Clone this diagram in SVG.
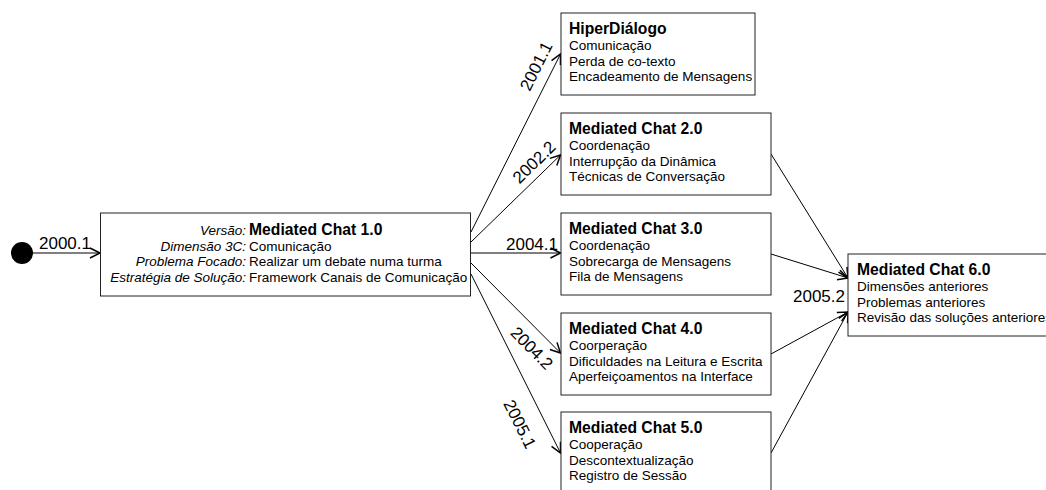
<svg xmlns="http://www.w3.org/2000/svg" width="1046" height="490" viewBox="0 0 1046 490">
<style>
text{font-family:"Liberation Sans",Arial,sans-serif;fill:#000}
.t{font-size:15.7px;font-weight:bold}
.b{font-size:13.5px}
.i{font-size:13.5px;font-style:italic}
.lbl{font-size:17px}
.box{fill:#fff;stroke:#222;stroke-width:1}
.c{stroke:#000;stroke-width:1;fill:none;marker-end:url(#arr)}
</style>
<defs>
<marker id="arr" markerUnits="userSpaceOnUse" markerWidth="14" markerHeight="14" refX="12" refY="7" orient="auto">
<path d="M2,2 L12,7 L2,12" fill="none" stroke="#000" stroke-width="1.5"/>
</marker>
</defs>
<rect width="1046" height="490" fill="#fff"/>
<g id="connectors">
<line class="c" x1="33" y1="253" x2="100" y2="253"/>
<line class="c" x1="471" y1="232" x2="560.5" y2="54"/>
<line class="c" x1="471" y1="242" x2="560.5" y2="155"/>
<line class="c" x1="471" y1="253" x2="560.5" y2="253"/>
<line class="c" x1="471" y1="263" x2="560.5" y2="353"/>
<line class="c" x1="471" y1="274" x2="560.5" y2="453"/>
<line class="c" x1="771" y1="154" x2="848" y2="278"/>
<line class="c" x1="771" y1="254" x2="848" y2="278"/>
<line class="c" x1="771" y1="354" x2="848" y2="312"/>
<line class="c" x1="771" y1="453" x2="848" y2="312"/>
<text class="lbl" x="39" y="249">2000.1</text>
<text class="lbl" text-anchor="middle" transform="translate(536,66) rotate(-63.4)" y="6">2001.1</text>
<text class="lbl" text-anchor="middle" transform="translate(534,162) rotate(-44.3)" y="6">2002.2</text>
<text class="lbl" x="506" y="250">2004.1</text>
<text class="lbl" text-anchor="middle" transform="translate(532,348) rotate(45.3)" y="6">2004.2</text>
<text class="lbl" text-anchor="middle" transform="translate(520,424) rotate(63.6)" y="6">2005.1</text>
<text class="lbl" x="845" y="302" text-anchor="end">2005.2</text>
</g>
<g id="start">
<circle cx="22" cy="253" r="11" fill="#000"/>
</g>
<g id="mc10">
<rect class="box" x="100.5" y="213" width="370" height="83"/>
<text class="i" x="246" y="235" text-anchor="end">Versão:</text>
<text class="t" x="249" y="235">Mediated Chat 1.0</text>
<text class="i" x="246" y="250.5" text-anchor="end">Dimensão 3C:</text>
<text class="b" x="249" y="250.5">Comunicação</text>
<text class="i" x="246" y="266" text-anchor="end">Problema Focado:</text>
<text class="b" x="249" y="266">Realizar um debate numa turma</text>
<text class="i" x="246" y="281.5" text-anchor="end">Estratégia de Solução:</text>
<text class="b" x="249" y="281.5">Framework Canais de Comunicação</text>
</g>
<g id="hiper">
<rect class="box" x="561" y="13" width="194" height="82"/>
<text class="t" x="569" y="34">HiperDiálogo</text>
<text class="b" x="569" y="50">Comunicação</text>
<text class="b" x="569" y="65.5">Perda de co-texto</text>
<text class="b" x="569" y="81">Encadeamento de Mensagens</text>
</g>
<g id="mc20">
<rect class="box" x="561" y="113" width="210" height="82"/>
<text class="t" x="569" y="134">Mediated Chat 2.0</text>
<text class="b" x="569" y="150">Coordenação</text>
<text class="b" x="569" y="165.5">Interrupção da Dinâmica</text>
<text class="b" x="569" y="181">Técnicas de Conversação</text>
</g>
<g id="mc30">
<rect class="box" x="561" y="213" width="210" height="82"/>
<text class="t" x="569" y="234">Mediated Chat 3.0</text>
<text class="b" x="569" y="250">Coordenação</text>
<text class="b" x="569" y="265.5">Sobrecarga de Mensagens</text>
<text class="b" x="569" y="281">Fila de Mensagens</text>
</g>
<g id="mc40">
<rect class="box" x="561" y="313" width="210" height="82"/>
<text class="t" x="569" y="334">Mediated Chat 4.0</text>
<text class="b" x="569" y="350">Coorperação</text>
<text class="b" x="569" y="365.5">Dificuldades na Leitura e Escrita</text>
<text class="b" x="569" y="381">Aperfeiçoamentos na Interface</text>
</g>
<g id="mc50">
<rect class="box" x="561" y="412" width="210" height="82"/>
<text class="t" x="569" y="433">Mediated Chat 5.0</text>
<text class="b" x="569" y="449">Cooperação</text>
<text class="b" x="569" y="464.5">Descontextualização</text>
<text class="b" x="569" y="480">Registro de Sessão</text>
</g>
<g id="mc60">
<rect class="box" x="848" y="254" width="210" height="82"/>
<text class="t" x="857" y="275">Mediated Chat 6.0</text>
<text class="b" x="857" y="291">Dimensões anteriores</text>
<text class="b" x="857" y="306.5">Problemas anteriores</text>
<text class="b" x="857" y="322">Revisão das soluções anteriores</text>
</g>
</svg>
